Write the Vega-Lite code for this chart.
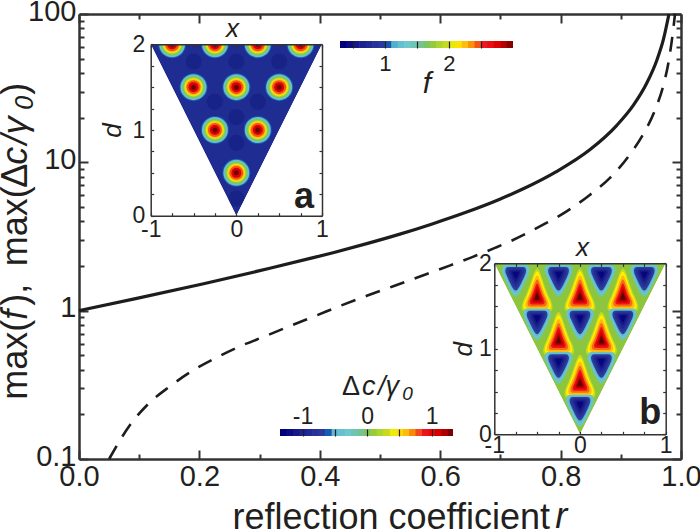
{"$schema":"https://vega.github.io/schema/vega-lite/v6.json","width":602,"height":445,"autosize":"none","padding":{"left":79,"top":14,"right":19,"bottom":71},"background":"white","config":{"view":{"stroke":null},"font":"Liberation Sans","axis":{"grid":false,"labelFont":"Liberation Sans","titleFont":"Liberation Sans","labelColor":"#231f20","titleColor":"#231f20","domainColor":"#333333","tickColor":"#333333","labelOverlap":false,"labelBound":false,"labelFlush":false,"titleFontWeight":"normal"}},
"datasets":{
"solid":[{"r":0,"v":1},{"r":0.096,"v":1.21},{"r":0.207,"v":1.52},{"r":0.317,"v":1.93},{"r":0.384,"v":2.25},{"r":0.422,"v":2.46},{"r":0.478,"v":2.83},{"r":0.533,"v":3.28},{"r":0.588,"v":3.86},{"r":0.644,"v":4.62},{"r":0.699,"v":5.64},{"r":0.738,"v":6.63},{"r":0.793,"v":8.66},{"r":0.849,"v":12.2},{"r":0.893,"v":17.7},{"r":0.921,"v":24.3},{"r":0.943,"v":34.1},{"r":0.96,"v":49},{"r":0.971,"v":67.9},{"r":0.98,"v":100}],
"dashed":[{"r":0.05,"v":0.1},{"r":0.085,"v":0.17},{"r":0.115,"v":0.235},{"r":0.151,"v":0.309},{"r":0.187,"v":0.39},{"r":0.229,"v":0.484},{"r":0.267,"v":0.574},{"r":0.312,"v":0.68},{"r":0.351,"v":0.79},{"r":0.395,"v":0.93},{"r":0.436,"v":1.085},{"r":0.478,"v":1.26},{"r":0.522,"v":1.46},{"r":0.563,"v":1.68},{"r":0.605,"v":1.94},{"r":0.65,"v":2.27},{"r":0.691,"v":2.65},{"r":0.716,"v":2.93},{"r":0.771,"v":3.8},{"r":0.81,"v":4.67},{"r":0.849,"v":6.05},{"r":0.882,"v":7.85},{"r":0.913,"v":11},{"r":0.937,"v":15.4},{"r":0.957,"v":22.6},{"r":0.971,"v":33.4},{"r":0.98,"v":49.2},{"r":0.987,"v":78},{"r":0.99,"v":100}],
"tri":[{"x":-1,"d":2},{"x":0,"d":0},{"x":1,"d":2}],
"aFull":[
{"x":-0.5,"d":1.5,"f":1},{"x":0,"d":1.5,"f":1},{"x":0.5,"d":1.5,"f":1},{"x":-0.25,"d":1,"f":1},{"x":0.25,"d":1,"f":1},{"x":0,"d":0.5,"f":1},
{"x":-0.5,"d":1.5,"f":1.2},{"x":0,"d":1.5,"f":1.2},{"x":0.5,"d":1.5,"f":1.2},{"x":-0.25,"d":1,"f":1.2},{"x":0.25,"d":1,"f":1.2},{"x":0,"d":0.5,"f":1.2},
{"x":-0.5,"d":1.5,"f":1.4},{"x":0,"d":1.5,"f":1.4},{"x":0.5,"d":1.5,"f":1.4},{"x":-0.25,"d":1,"f":1.4},{"x":0.25,"d":1,"f":1.4},{"x":0,"d":0.5,"f":1.4},
{"x":-0.5,"d":1.5,"f":1.6},{"x":0,"d":1.5,"f":1.6},{"x":0.5,"d":1.5,"f":1.6},{"x":-0.25,"d":1,"f":1.6},{"x":0.25,"d":1,"f":1.6},{"x":0,"d":0.5,"f":1.6},
{"x":-0.5,"d":1.5,"f":1.8},{"x":0,"d":1.5,"f":1.8},{"x":0.5,"d":1.5,"f":1.8},{"x":-0.25,"d":1,"f":1.8},{"x":0.25,"d":1,"f":1.8},{"x":0,"d":0.5,"f":1.8},
{"x":-0.5,"d":1.5,"f":2},{"x":0,"d":1.5,"f":2},{"x":0.5,"d":1.5,"f":2},{"x":-0.25,"d":1,"f":2},{"x":0.25,"d":1,"f":2},{"x":0,"d":0.5,"f":2},
{"x":-0.5,"d":1.5,"f":2.2},{"x":0,"d":1.5,"f":2.2},{"x":0.5,"d":1.5,"f":2.2},{"x":-0.25,"d":1,"f":2.2},{"x":0.25,"d":1,"f":2.2},{"x":0,"d":0.5,"f":2.2},
{"x":-0.5,"d":1.5,"f":2.4},{"x":0,"d":1.5,"f":2.4},{"x":0.5,"d":1.5,"f":2.4},{"x":-0.25,"d":1,"f":2.4},{"x":0.25,"d":1,"f":2.4},{"x":0,"d":0.5,"f":2.4},
{"x":-0.5,"d":1.5,"f":2.7},{"x":0,"d":1.5,"f":2.7},{"x":0.5,"d":1.5,"f":2.7},{"x":-0.25,"d":1,"f":2.7},{"x":0.25,"d":1,"f":2.7},{"x":0,"d":0.5,"f":2.7},
{"x":-0.5,"d":1.5,"f":2.95},{"x":0,"d":1.5,"f":2.95},{"x":0.5,"d":1.5,"f":2.95},{"x":-0.25,"d":1,"f":2.95},{"x":0.25,"d":1,"f":2.95},{"x":0,"d":0.5,"f":2.95}],
"aHalf":[
{"x":-0.75,"d":2,"f":1},{"x":-0.25,"d":2,"f":1},{"x":0.25,"d":2,"f":1},{"x":0.75,"d":2,"f":1},
{"x":-0.75,"d":2,"f":1.2},{"x":-0.25,"d":2,"f":1.2},{"x":0.25,"d":2,"f":1.2},{"x":0.75,"d":2,"f":1.2},
{"x":-0.75,"d":2,"f":1.4},{"x":-0.25,"d":2,"f":1.4},{"x":0.25,"d":2,"f":1.4},{"x":0.75,"d":2,"f":1.4},
{"x":-0.75,"d":2,"f":1.6},{"x":-0.25,"d":2,"f":1.6},{"x":0.25,"d":2,"f":1.6},{"x":0.75,"d":2,"f":1.6},
{"x":-0.75,"d":2,"f":1.8},{"x":-0.25,"d":2,"f":1.8},{"x":0.25,"d":2,"f":1.8},{"x":0.75,"d":2,"f":1.8},
{"x":-0.75,"d":2,"f":2},{"x":-0.25,"d":2,"f":2},{"x":0.25,"d":2,"f":2},{"x":0.75,"d":2,"f":2},
{"x":-0.75,"d":2,"f":2.2},{"x":-0.25,"d":2,"f":2.2},{"x":0.25,"d":2,"f":2.2},{"x":0.75,"d":2,"f":2.2},
{"x":-0.75,"d":2,"f":2.4},{"x":-0.25,"d":2,"f":2.4},{"x":0.25,"d":2,"f":2.4},{"x":0.75,"d":2,"f":2.4},
{"x":-0.75,"d":2,"f":2.7},{"x":-0.25,"d":2,"f":2.7},{"x":0.25,"d":2,"f":2.7},{"x":0.75,"d":2,"f":2.7},
{"x":-0.75,"d":2,"f":2.95},{"x":-0.25,"d":2,"f":2.95},{"x":0.25,"d":2,"f":2.95},{"x":0.75,"d":2,"f":2.95}],
"aLow":[{"x":-0.5,"d":1.8},{"x":0,"d":1.8},{"x":0.5,"d":1.8},{"x":-0.25,"d":1.33},{"x":0.25,"d":1.33},{"x":0,"d":0.85},{"x":0,"d":1.15},{"x":0,"d":0.2}],
"bRed":[
{"x":-0.5,"d":1.6,"f":0.25},{"x":0,"d":1.6,"f":0.25},{"x":0.5,"d":1.6,"f":0.25},{"x":-0.25,"d":1.09,"f":0.25},{"x":0.25,"d":1.09,"f":0.25},{"x":0,"d":0.59,"f":0.25},
{"x":-0.5,"d":1.6,"f":0.4},{"x":0,"d":1.6,"f":0.4},{"x":0.5,"d":1.6,"f":0.4},{"x":-0.25,"d":1.09,"f":0.4},{"x":0.25,"d":1.09,"f":0.4},{"x":0,"d":0.59,"f":0.4},
{"x":-0.5,"d":1.6,"f":0.55},{"x":0,"d":1.6,"f":0.55},{"x":0.5,"d":1.6,"f":0.55},{"x":-0.25,"d":1.09,"f":0.55},{"x":0.25,"d":1.09,"f":0.55},{"x":0,"d":0.59,"f":0.55},
{"x":-0.5,"d":1.6,"f":0.7},{"x":0,"d":1.6,"f":0.7},{"x":0.5,"d":1.6,"f":0.7},{"x":-0.25,"d":1.09,"f":0.7},{"x":0.25,"d":1.09,"f":0.7},{"x":0,"d":0.59,"f":0.7},
{"x":-0.5,"d":1.6,"f":0.85},{"x":0,"d":1.6,"f":0.85},{"x":0.5,"d":1.6,"f":0.85},{"x":-0.25,"d":1.09,"f":0.85},{"x":0.25,"d":1.09,"f":0.85},{"x":0,"d":0.59,"f":0.85},
{"x":-0.5,"d":1.6,"f":1},{"x":0,"d":1.6,"f":1},{"x":0.5,"d":1.6,"f":1},{"x":-0.25,"d":1.09,"f":1},{"x":0.25,"d":1.09,"f":1},{"x":0,"d":0.59,"f":1},
{"x":-0.5,"d":1.6,"f":1.15},{"x":0,"d":1.6,"f":1.15},{"x":0.5,"d":1.6,"f":1.15},{"x":-0.25,"d":1.09,"f":1.15},{"x":0.25,"d":1.09,"f":1.15},{"x":0,"d":0.59,"f":1.15},
{"x":-0.5,"d":1.6,"f":1.3},{"x":0,"d":1.6,"f":1.3},{"x":0.5,"d":1.6,"f":1.3},{"x":-0.25,"d":1.09,"f":1.3},{"x":0.25,"d":1.09,"f":1.3},{"x":0,"d":0.59,"f":1.3}],
"bBlue":[
{"x":-0.75,"d":1.88,"f":-0.25},{"x":-0.25,"d":1.88,"f":-0.25},{"x":0.25,"d":1.88,"f":-0.25},{"x":0.75,"d":1.88,"f":-0.25},{"x":-0.5,"d":1.37,"f":-0.25},{"x":0,"d":1.37,"f":-0.25},{"x":0.5,"d":1.37,"f":-0.25},{"x":-0.25,"d":0.86,"f":-0.25},{"x":0.25,"d":0.86,"f":-0.25},{"x":0,"d":0.36,"f":-0.25},
{"x":-0.75,"d":1.88,"f":-0.4},{"x":-0.25,"d":1.88,"f":-0.4},{"x":0.25,"d":1.88,"f":-0.4},{"x":0.75,"d":1.88,"f":-0.4},{"x":-0.5,"d":1.37,"f":-0.4},{"x":0,"d":1.37,"f":-0.4},{"x":0.5,"d":1.37,"f":-0.4},{"x":-0.25,"d":0.86,"f":-0.4},{"x":0.25,"d":0.86,"f":-0.4},{"x":0,"d":0.36,"f":-0.4},
{"x":-0.75,"d":1.88,"f":-0.55},{"x":-0.25,"d":1.88,"f":-0.55},{"x":0.25,"d":1.88,"f":-0.55},{"x":0.75,"d":1.88,"f":-0.55},{"x":-0.5,"d":1.37,"f":-0.55},{"x":0,"d":1.37,"f":-0.55},{"x":0.5,"d":1.37,"f":-0.55},{"x":-0.25,"d":0.86,"f":-0.55},{"x":0.25,"d":0.86,"f":-0.55},{"x":0,"d":0.36,"f":-0.55},
{"x":-0.75,"d":1.88,"f":-0.7},{"x":-0.25,"d":1.88,"f":-0.7},{"x":0.25,"d":1.88,"f":-0.7},{"x":0.75,"d":1.88,"f":-0.7},{"x":-0.5,"d":1.37,"f":-0.7},{"x":0,"d":1.37,"f":-0.7},{"x":0.5,"d":1.37,"f":-0.7},{"x":-0.25,"d":0.86,"f":-0.7},{"x":0.25,"d":0.86,"f":-0.7},{"x":0,"d":0.36,"f":-0.7},
{"x":-0.75,"d":1.88,"f":-0.85},{"x":-0.25,"d":1.88,"f":-0.85},{"x":0.25,"d":1.88,"f":-0.85},{"x":0.75,"d":1.88,"f":-0.85},{"x":-0.5,"d":1.37,"f":-0.85},{"x":0,"d":1.37,"f":-0.85},{"x":0.5,"d":1.37,"f":-0.85},{"x":-0.25,"d":0.86,"f":-0.85},{"x":0.25,"d":0.86,"f":-0.85},{"x":0,"d":0.36,"f":-0.85},
{"x":-0.75,"d":1.88,"f":-1},{"x":-0.25,"d":1.88,"f":-1},{"x":0.25,"d":1.88,"f":-1},{"x":0.75,"d":1.88,"f":-1},{"x":-0.5,"d":1.37,"f":-1},{"x":0,"d":1.37,"f":-1},{"x":0.5,"d":1.37,"f":-1},{"x":-0.25,"d":0.86,"f":-1},{"x":0.25,"d":0.86,"f":-1},{"x":0,"d":0.36,"f":-1},
{"x":-0.75,"d":1.88,"f":-1.15},{"x":-0.25,"d":1.88,"f":-1.15},{"x":0.25,"d":1.88,"f":-1.15},{"x":0.75,"d":1.88,"f":-1.15},{"x":-0.5,"d":1.37,"f":-1.15},{"x":0,"d":1.37,"f":-1.15},{"x":0.5,"d":1.37,"f":-1.15},{"x":-0.25,"d":0.86,"f":-1.15},{"x":0.25,"d":0.86,"f":-1.15},{"x":0,"d":0.36,"f":-1.15},
{"x":-0.75,"d":1.88,"f":-1.3},{"x":-0.25,"d":1.88,"f":-1.3},{"x":0.25,"d":1.88,"f":-1.3},{"x":0.75,"d":1.88,"f":-1.3},{"x":-0.5,"d":1.37,"f":-1.3},{"x":0,"d":1.37,"f":-1.3},{"x":0.5,"d":1.37,"f":-1.3},{"x":-0.25,"d":0.86,"f":-1.3},{"x":0.25,"d":0.86,"f":-1.3},{"x":0,"d":0.36,"f":-1.3}],
"barF":[{"v":0.3,"v2":0.41},{"v":0.4,"v2":0.51},{"v":0.5,"v2":0.61},{"v":0.6,"v2":0.71},{"v":0.7,"v2":0.81},{"v":0.8,"v2":0.91},{"v":0.9,"v2":1.01},{"v":1.0,"v2":1.11},{"v":1.1,"v2":1.21},{"v":1.2,"v2":1.31},{"v":1.3,"v2":1.41},{"v":1.4,"v2":1.51},{"v":1.5,"v2":1.61},{"v":1.6,"v2":1.71},{"v":1.7,"v2":1.81},{"v":1.8,"v2":1.91},{"v":1.9,"v2":2.01},{"v":2.0,"v2":2.11},{"v":2.1,"v2":2.21},{"v":2.2,"v2":2.31},{"v":2.3,"v2":2.41},{"v":2.4,"v2":2.51},{"v":2.5,"v2":2.61},{"v":2.6,"v2":2.71},{"v":2.7,"v2":2.81},{"v":2.8,"v2":2.91},{"v":2.9,"v2":3.0}],
"barB":[{"v":-1.35,"v2":-1.24},{"v":-1.25,"v2":-1.14},{"v":-1.15,"v2":-1.04},{"v":-1.05,"v2":-0.94},{"v":-0.95,"v2":-0.84},{"v":-0.85,"v2":-0.74},{"v":-0.75,"v2":-0.64},{"v":-0.65,"v2":-0.54},{"v":-0.55,"v2":-0.44},{"v":-0.45,"v2":-0.34},{"v":-0.35,"v2":-0.24},{"v":-0.25,"v2":-0.14},{"v":-0.15,"v2":-0.04},{"v":-0.05,"v2":0.06},{"v":0.05,"v2":0.16},{"v":0.15,"v2":0.26},{"v":0.25,"v2":0.36},{"v":0.35,"v2":0.46},{"v":0.45,"v2":0.56},{"v":0.55,"v2":0.66},{"v":0.65,"v2":0.76},{"v":0.75,"v2":0.86},{"v":0.85,"v2":0.96},{"v":0.95,"v2":1.06},{"v":1.05,"v2":1.16},{"v":1.15,"v2":1.26},{"v":1.25,"v2":1.33}]
},
"layer":[
{"encoding":{
 "x":{"field":"r","type":"quantitative","scale":{"domain":[0,1],"range":[0,602],"nice":false},"axis":{"orient":"bottom","values":[0,0.2,0.4,0.6,0.8,1],"format":".1f","tickSize":-9,"tickWidth":2,"domainWidth":2.5,"labelFontSize":29,"labelPadding":12.5,"title":"reflection coefficient","titleFontSize":36,"titleX":153,"titleY":69,"titleAlign":"left","titleBaseline":"alphabetic","titleAnchor":null}},
 "y":{"field":"v","type":"quantitative","scale":{"type":"log","domain":[0.1,100],"range":[445,0],"nice":false},"axis":{"orient":"left","values":[0.1,1,10,100],"format":"~g","tickSize":-9,"tickWidth":2,"domainWidth":2.5,"labelFontSize":29,"labelPadding":12,"labelOffset":-3,"title":null}}},
 "layer":[
 {"data":{"name":"solid"},"mark":{"type":"line","color":"#1d1d1b","strokeWidth":3.2,"interpolate":"monotone"}},
 {"data":{"name":"dashed"},"mark":{"type":"line","color":"#1d1d1b","strokeWidth":2.6,"strokeDash":[15,11],"interpolate":"monotone"}},
 {"data":{"values":[{"r":-0.0864,"v":0.2512,"t":"max("},{"r":-0.0864,"v":1.08,"t":"),"},{"r":-0.0864,"v":1.99,"t":"max("},{"r":-0.0864,"v":6.75,"t":"Δ"},{"r":-0.0864,"v":28.6,"t":")"}]},"mark":{"type":"text","angle":270,"align":"left","baseline":"alphabetic","fontSize":36,"color":"#231f20"},"encoding":{"text":{"field":"t"}}},
 {"data":{"values":[{"r":-0.0864,"v":0.87,"t":"f"},{"r":-0.0864,"v":9.64,"t":"c"},{"r":-0.0864,"v":13.2,"t":"/γ"}]},"mark":{"type":"text","angle":270,"align":"left","baseline":"alphabetic","fontSize":36,"fontStyle":"italic","color":"#231f20"},"encoding":{"text":{"field":"t"}}},
 {"data":{"values":[{"r":-0.0764,"v":22.6,"t":"0"}]},"mark":{"type":"text","angle":270,"align":"left","baseline":"alphabetic","fontSize":25,"fontStyle":"italic","color":"#231f20"},"encoding":{"text":{"field":"t"}}},
 {"data":{"values":[{"r":0.791,"v":0.0344,"t":"r"}]},"mark":{"type":"text","align":"left","baseline":"alphabetic","fontSize":36,"fontStyle":"italic","color":"#231f20"},"encoding":{"text":{"field":"t"}}}
 ]},
{"data":{"name":"solid"},"mark":{"type":"line","opacity":0},"encoding":{
 "x":{"field":"r","type":"quantitative","scale":{"domain":[0,1],"range":[0,602],"nice":false},"axis":{"orient":"bottom","values":[0.1,0.3,0.5,0.7,0.9],"labels":false,"domain":false,"tickSize":-5,"tickWidth":2,"title":null}},
 "y":{"field":"v","type":"quantitative","scale":{"type":"log","domain":[0.1,100],"range":[445,0],"nice":false},"axis":{"orient":"left","values":[0.2,0.3,0.4,0.5,0.6,0.7,0.8,0.9,2,3,4,5,6,7,8,9,20,30,40,50,60,70,80,90],"labels":false,"domain":false,"tickSize":-5,"tickWidth":2,"title":null}}}},
{"data":{"name":"solid"},"mark":{"type":"line","opacity":0},"encoding":{
 "x":{"field":"r","type":"quantitative","scale":{"domain":[0,1],"range":[0,602],"nice":false},"axis":{"orient":"top","values":[0,0.2,0.4,0.6,0.8,1],"labels":false,"tickSize":-9,"tickWidth":2,"domainWidth":2.5,"title":null}},
 "y":{"field":"v","type":"quantitative","scale":{"type":"log","domain":[0.1,100],"range":[445,0],"nice":false},"axis":{"orient":"right","values":[0.1,1,10,100],"labels":false,"tickSize":-9,"tickWidth":2,"domainWidth":2.5,"title":null}}}},
{"data":{"name":"solid"},"mark":{"type":"line","opacity":0},"encoding":{
 "x":{"field":"r","type":"quantitative","scale":{"domain":[0,1],"range":[0,602],"nice":false},"axis":{"orient":"top","values":[0.1,0.3,0.5,0.7,0.9],"labels":false,"domain":false,"tickSize":-5,"tickWidth":2,"title":null}},
 "y":{"field":"v","type":"quantitative","scale":{"type":"log","domain":[0.1,100],"range":[445,0],"nice":false},"axis":{"orient":"right","values":[0.2,0.3,0.4,0.5,0.6,0.7,0.8,0.9,2,3,4,5,6,7,8,9,20,30,40,50,60,70,80,90],"labels":false,"domain":false,"tickSize":-5,"tickWidth":2,"title":null}}}},

{"encoding":{
 "x":{"field":"x","type":"quantitative","scale":{"domain":[-1,1],"range":[71.7,243],"nice":false},"axis":{"orient":"bottom","offset":-243.3,"zindex":1,"values":[-1,-0.75,-0.5,-0.25,0,0.25,0.5,0.75,1],"labelExpr":"datum.value % 1 == 0 ? (datum.value < 0 ? '-' : '') + abs(datum.value) : ''","tickSize":-3,"tickWidth":1.2,"domainWidth":1.5,"labelFontSize":23,"labelPadding":6,"title":null}},
 "y":{"field":"d","type":"quantitative","scale":{"domain":[0,2],"range":[201.7,30.3],"nice":false},"axis":{"orient":"left","offset":-71.7,"zindex":1,"values":[0,0.25,0.5,0.75,1,1.25,1.5,1.75,2],"labelExpr":"datum.value % 1 == 0 ? '' + datum.value : ''","tickSize":-3,"tickWidth":1.2,"domainWidth":1.5,"labelFontSize":23,"labelPadding":9,"title":"d","titleFontSize":26,"titleFontStyle":"italic","titlePadding":6}}},
 "layer":[
 {"data":{"name":"tri"},"mark":{"type":"area","color":"#1f2c92"},"encoding":{"y2":{"datum":2}}},
 {"data":{"name":"aLow"},"mark":{"type":"point","filled":true,"shape":"circle","size":260,"color":"#0a0f6e","opacity":0.3}},
 {"data":{"name":"aFull"},"mark":{"type":"point","filled":true,"shape":"circle","opacity":1},"encoding":{
  "color":{"field":"f","type":"quantitative","legend":null,"scale":{"domain":[0.3,0.57,0.975,1.11,1.3,1.49,1.65,1.92,2.06,2.24,2.46,2.68,2.87,3.0],"range":["#00007a","#1c1f8c","#2e3f9f","#5fb7d0","#6fc8d0","#78c09a","#8cc63f","#c9dc1a","#fff200","#fbb017","#ed1c24","#e60000","#9c0000","#4d0000"]}},
  "size":{"field":"f","type":"quantitative","legend":null,"scale":{"domain":[1,1.2,1.4,1.6,1.8,2,2.2,2.4,2.7,2.95],"range":[784,676,576,484,400,324,256,196,100,25]}}}},
 {"data":{"name":"aHalf"},"mark":{"type":"point","filled":true,"shape":"M-1,0A1,1 0 0 0 1,0Z","opacity":1},"encoding":{
  "color":{"field":"f","type":"quantitative","legend":null,"scale":{"domain":[0.3,0.57,0.975,1.11,1.3,1.49,1.65,1.92,2.06,2.24,2.46,2.68,2.87,3.0],"range":["#00007a","#1c1f8c","#2e3f9f","#5fb7d0","#6fc8d0","#78c09a","#8cc63f","#c9dc1a","#fff200","#fbb017","#ed1c24","#e60000","#9c0000","#4d0000"]}},
  "size":{"field":"f","type":"quantitative","legend":null,"scale":{"domain":[1,1.2,1.4,1.6,1.8,2,2.2,2.4,2.7,2.95],"range":[784,676,576,484,400,324,256,196,100,25]}}}},
 {"data":{"name":"tri"},"mark":{"type":"area","color":"white"},"encoding":{"y2":{"datum":0}}},
 {"data":{"values":[{"x":0.79,"d":0.22,"t":"a"}]},"mark":{"type":"text","fontSize":36,"fontWeight":"bold","align":"center","baseline":"middle","color":"#231f20"},"encoding":{"text":{"field":"t"}}}
 ]},
{"data":{"name":"tri"},"mark":{"type":"line","opacity":0},"encoding":{
 "x":{"field":"x","type":"quantitative","scale":{"domain":[-1,1],"range":[71.7,243],"nice":false},"axis":{"orient":"top","offset":-30.3,"zindex":1,"values":[-1,-0.75,-0.5,-0.25,0,0.25,0.5,0.75,1],"labels":false,"tickSize":-3,"tickWidth":1.2,"domainWidth":1.5,"title":"x","titleX":153,"titleFontSize":26,"titleFontStyle":"italic","titlePadding":2}},
 "y":{"field":"d","type":"quantitative","scale":{"domain":[0,2],"range":[201.7,30.3],"nice":false},"axis":{"orient":"right","offset":-359,"zindex":1,"values":[0,0.25,0.5,0.75,1,1.25,1.5,1.75,2],"labels":false,"tickSize":-3,"tickWidth":1.2,"domainWidth":1.5,"title":null}}}},

{"encoding":{
 "x":{"field":"x","type":"quantitative","scale":{"domain":[-1,1],"range":[415.3,586.7],"nice":false},"axis":{"orient":"bottom","offset":-24.7,"zindex":1,"values":[-1,-0.75,-0.5,-0.25,0,0.25,0.5,0.75,1],"labelExpr":"datum.value % 1 == 0 ? (datum.value < 0 ? '-' : '') + abs(datum.value) : ''","tickSize":-3,"tickWidth":1.2,"domainWidth":1.5,"labelFontSize":23,"labelPadding":3,"title":null}},
 "y":{"field":"d","type":"quantitative","scale":{"domain":[0,2],"range":[420.3,249.3],"nice":false},"axis":{"orient":"left","offset":-415.3,"zindex":1,"values":[0,0.25,0.5,0.75,1,1.25,1.5,1.75,2],"labelExpr":"datum.value % 1 == 0 ? '' + datum.value : ''","tickSize":-3,"tickWidth":1.2,"domainWidth":1.5,"labelFontSize":23,"labelPadding":6,"title":"d","titleFontSize":26,"titleFontStyle":"italic","titlePadding":2}}},
 "layer":[
 {"data":{"name":"tri"},"mark":{"type":"area","color":"#8cc63f"},"encoding":{"y2":{"datum":2}}},
 {"data":{"name":"bRed"},"mark":{"type":"point","filled":true,"opacity":1,"shape":"M0,-1C0.1,-1,0.2,-0.5,0.4,-0.05C0.55,0.25,0.6,0.45,0.4,0.5L-0.4,0.5C-0.6,0.45,-0.55,0.25,-0.4,-0.05C-0.2,-0.5,-0.1,-1,0,-1Z"},"encoding":{
  "color":{"field":"f","type":"quantitative","legend":null,"scale":{"domain":[-1.35,-1.08,-0.68,-0.55,-0.36,-0.17,-0.01,0.26,0.39,0.58,0.79,1.01,1.2,1.33],"range":["#00007a","#1c1f8c","#2e3f9f","#5fb7d0","#6fc8d0","#78c09a","#8cc63f","#c9dc1a","#fff200","#fbb017","#ed1c24","#e60000","#9c0000","#4d0000"]}},
  "size":{"field":"f","type":"quantitative","legend":null,"scale":{"domain":[-1.3,-1.15,-1,-0.85,-0.7,-0.55,-0.4,-0.25,0.25,0.4,0.55,0.7,0.85,1,1.15,1.3],"range":[100,256,484,784,1156,1444,1764,2116,3364,2704,1936,1296,784,484,256,100]}}}},
 {"data":{"name":"bBlue"},"mark":{"type":"point","filled":true,"opacity":1,"shape":"M-0.42,-0.38L0.42,-0.38C0.64,-0.38,0.66,-0.12,0.52,0.14C0.36,0.5,0.15,1,0,1C-0.15,1,-0.36,0.5,-0.52,0.14C-0.66,-0.12,-0.64,-0.38,-0.42,-0.38Z"},"encoding":{
  "color":{"field":"f","type":"quantitative","legend":null,"scale":{"domain":[-1.35,-1.08,-0.68,-0.55,-0.36,-0.17,-0.01,0.26,0.39,0.58,0.79,1.01,1.2,1.33],"range":["#00007a","#1c1f8c","#2e3f9f","#5fb7d0","#6fc8d0","#78c09a","#8cc63f","#c9dc1a","#fff200","#fbb017","#ed1c24","#e60000","#9c0000","#4d0000"]}},
  "size":{"field":"f","type":"quantitative","legend":null,"scale":{"domain":[-1.3,-1.15,-1,-0.85,-0.7,-0.55,-0.4,-0.25,0.25,0.4,0.55,0.7,0.85,1,1.15,1.3],"range":[100,256,484,784,1156,1444,1764,2116,3364,2704,1936,1296,784,484,256,100]}}}},
 {"data":{"name":"tri"},"mark":{"type":"area","color":"white"},"encoding":{"y2":{"datum":0}}},
 {"data":{"values":[{"x":0.82,"d":0.25,"t":"b"}]},"mark":{"type":"text","fontSize":36,"fontWeight":"bold","align":"center","baseline":"middle","color":"#231f20"},"encoding":{"text":{"field":"t"}}}
 ]},
{"data":{"name":"tri"},"mark":{"type":"line","opacity":0},"encoding":{
 "x":{"field":"x","type":"quantitative","scale":{"domain":[-1,1],"range":[415.3,586.7],"nice":false},"axis":{"orient":"top","offset":-249.3,"zindex":1,"values":[-1,-0.75,-0.5,-0.25,0,0.25,0.5,0.75,1],"labels":false,"tickSize":-3,"tickWidth":1.2,"domainWidth":1.5,"title":"x","titleX":503,"titleFontSize":26,"titleFontStyle":"italic","titlePadding":2}},
 "y":{"field":"d","type":"quantitative","scale":{"domain":[0,2],"range":[420.3,249.3],"nice":false},"axis":{"orient":"right","offset":-15.3,"zindex":1,"values":[0,0.25,0.5,0.75,1,1.25,1.5,1.75,2],"labels":false,"tickSize":-3,"tickWidth":1.2,"domainWidth":1.5,"title":null}}}},

{"data":{"name":"barF"},"mark":{"type":"rect"},"encoding":{
 "x":{"field":"v","type":"quantitative","scale":{"domain":[0.3,3.0],"range":[261,434],"nice":false},"axis":{"orient":"bottom","offset":-411,"zindex":1,"domain":false,"values":[0.5,1,1.5,2,2.5],"labelExpr":"datum.value % 1 == 0 ? '' + datum.value : ''","tickSize":-7,"tickWidth":1.2,"tickColor":"#231f20","labelFontSize":22,"labelPadding":12,"title":"f","titleFontSize":30,"titleFontStyle":"italic","titlePadding":-6}},
 "x2":{"field":"v2"},
 "y":{"datum":0,"type":"quantitative","scale":{"domain":[0,1],"range":[34,27],"nice":false},"axis":null},
 "y2":{"datum":1},
 "color":{"field":"v","type":"quantitative","legend":null,"scale":{"domain":[0.3,0.57,0.975,1.11,1.3,1.49,1.65,1.92,2.06,2.24,2.46,2.68,2.87,3.0],"range":["#00007a","#1c1f8c","#2e3f9f","#5fb7d0","#6fc8d0","#78c09a","#8cc63f","#c9dc1a","#fff200","#fbb017","#ed1c24","#e60000","#9c0000","#4d0000"]}}}},

{"encoding":{
 "x":{"field":"v","type":"quantitative","scale":{"domain":[-1.35,1.33],"range":[201,374],"nice":false},"axis":{"orient":"top","offset":-415,"zindex":1,"domain":false,"values":[-1,-0.5,0,0.5,1],"labelExpr":"datum.value % 1 == 0 ? (datum.value < 0 ? '-' : '') + abs(datum.value) : ''","tickSize":-7,"tickWidth":1.2,"tickColor":"#231f20","labelFontSize":23,"labelPadding":8,"title":null}}},
 "layer":[
 {"data":{"name":"barB"},"mark":{"type":"rect"},"encoding":{
  "x2":{"field":"v2"},
  "y":{"datum":0,"type":"quantitative","scale":{"domain":[0,1],"range":[422,415],"nice":false},"axis":null},
  "y2":{"datum":1},
  "color":{"field":"v","type":"quantitative","legend":null,"scale":{"domain":[-1.35,-1.08,-0.68,-0.55,-0.36,-0.17,-0.01,0.26,0.39,0.58,0.79,1.01,1.2,1.33],"range":["#00007a","#1c1f8c","#2e3f9f","#5fb7d0","#6fc8d0","#78c09a","#8cc63f","#c9dc1a","#fff200","#fbb017","#ed1c24","#e60000","#9c0000","#4d0000"]}}}},
 {"data":{"values":[{"v":-0.388,"h":5.857,"t":"Δ"}]},"mark":{"type":"text","align":"left","baseline":"alphabetic","fontSize":27,"color":"#231f20"},"encoding":{"y":{"field":"h","type":"quantitative","scale":{"domain":[0,1],"range":[422,415],"nice":false},"axis":null},"text":{"field":"t"}}},
 {"data":{"values":[{"v":-0.078,"h":5.857,"t":"c"},{"v":0.17,"h":5.857,"t":"/γ"}]},"mark":{"type":"text","align":"left","baseline":"alphabetic","fontSize":27,"fontStyle":"italic","color":"#231f20"},"encoding":{"y":{"field":"h","type":"quantitative","scale":{"domain":[0,1],"range":[422,415],"nice":false},"axis":null},"text":{"field":"t"}}},
 {"data":{"values":[{"v":0.543,"h":5.14,"t":"0"}]},"mark":{"type":"text","align":"left","baseline":"alphabetic","fontSize":19,"fontStyle":"italic","color":"#231f20"},"encoding":{"y":{"field":"h","type":"quantitative","scale":{"domain":[0,1],"range":[422,415],"nice":false},"axis":null},"text":{"field":"t"}}}
 ]}
],
"resolve":{"scale":{"x":"independent","y":"independent","color":"independent","size":"independent"}}
}
